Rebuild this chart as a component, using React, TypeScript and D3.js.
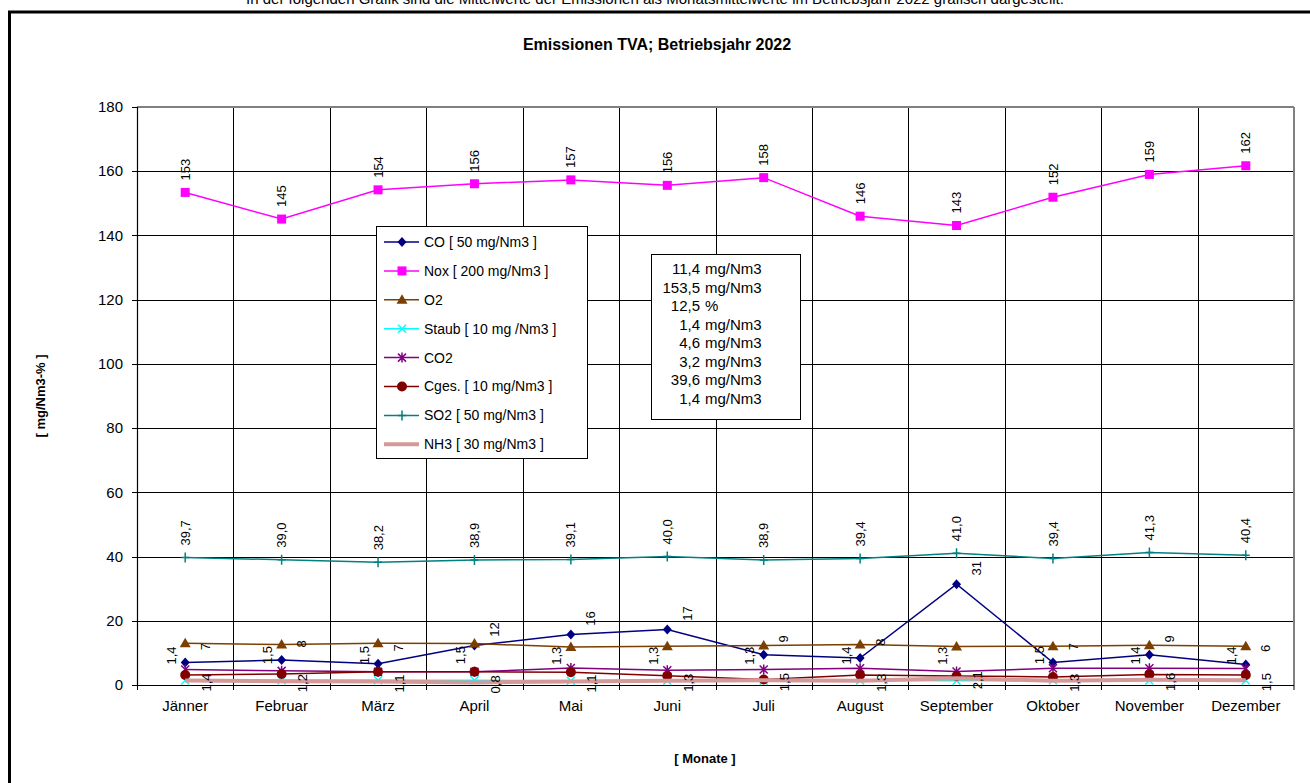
import React from "react";
import * as d3 from "d3";

const months = ["Jänner","Februar","März","April","Mai","Juni","Juli","August","September","Oktober","November","Dezember"];
const coValues = [7.0, 7.8, 6.6, 12.3, 15.7, 17.3, 9.4, 8.4, 31.4, 7.0, 9.4, 6.4];
const noxValues = [153.4, 145.1, 154.2, 156.1, 157.3, 155.6, 158.0, 146.0, 143.1, 151.9, 159.0, 161.7];
const o2Values = [13.0, 12.6, 13.0, 12.9, 11.8, 12.1, 12.3, 12.6, 12.0, 12.1, 12.4, 12.1];
const staubValues = [1.4, 1.5, 1.5, 1.5, 1.3, 1.3, 1.3, 1.4, 1.3, 1.5, 1.4, 1.4];
const co2Values = [4.8, 4.4, 4.1, 4.1, 5.3, 4.6, 4.8, 5.2, 4.2, 5.2, 5.2, 5.1];
const cgesValues = [3.1, 3.4, 4.1, 4.1, 4.0, 2.9, 1.7, 3.1, 2.8, 2.5, 3.3, 3.1];
const so2Values = [39.7, 39.0, 38.2, 38.9, 39.1, 40.0, 38.9, 39.4, 41.0, 39.4, 41.3, 40.4];
const nh3Values = [1.4, 1.2, 1.1, 0.8, 1.1, 1.3, 1.5, 1.3, 2.1, 1.3, 1.6, 1.5];
const yTicks = [0, 20, 40, 60, 80, 100, 120, 140, 160, 180];
const statsValues = ["11,4", "153,5", "12,5", "1,4", "4,6", "3,2", "39,6", "1,4"];
const statsUnits = ["mg/Nm3", "mg/Nm3", "%", "mg/Nm3", "mg/Nm3", "mg/Nm3", "mg/Nm3", "mg/Nm3"];

type Series = {
  name: string; values: number[]; color: string; marker: string; width: number;
  label?: "above" | "right" | "leftAbove" | "rightMid"; fmt?: (v: number) => string;
};

const fmt0 = (v: number) => d3.format(".0f")(v);
const fmt1 = (v: number) => d3.format(".1f")(v).replace(".", ",");

const series: Series[] = [
  { name: "CO [ 50 mg/Nm3 ]", values: coValues, color: "#000080", marker: "diamond", width: 1.5, label: "right", fmt: fmt0 },
  { name: "Nox [ 200 mg/Nm3 ]", values: noxValues, color: "#FF00FF", marker: "square", width: 1.5, label: "above", fmt: fmt0 },
  { name: "O2", values: o2Values, color: "#7B3F00", marker: "triangle", width: 1.5 },
  { name: "Staub [ 10 mg /Nm3 ]", values: staubValues, color: "#00FFFF", marker: "x", width: 1.5, label: "leftAbove", fmt: fmt1 },
  { name: "CO2", values: co2Values, color: "#800080", marker: "star", width: 1.5 },
  { name: "Cges. [ 10 mg/Nm3 ]", values: cgesValues, color: "#800000", marker: "circle", width: 1.5 },
  { name: "SO2 [ 50 mg/Nm3 ]", values: so2Values, color: "#008080", marker: "plus", width: 1.5, label: "above", fmt: fmt1 },
  { name: "NH3 [ 30 mg/Nm3 ]", values: nh3Values, color: "#D49A9A", marker: "none", width: 4, label: "rightMid", fmt: fmt1 },
];

const FONT = "Arial, 'Liberation Sans', sans-serif";

function Marker({ type, x, y, color }: { type: string; x: number; y: number; color: string }) {
  switch (type) {
    case "diamond":
      return <path d={`M${x},${y - 5}L${x + 4.5},${y}L${x},${y + 5}L${x - 4.5},${y}Z`} fill={color} />;
    case "square":
      return <rect x={x - 4.5} y={y - 4.5} width={9} height={9} fill={color} />;
    case "triangle":
      return <path d={`M${x},${y - 5.5}L${x + 5.5},${y + 4}L${x - 5.5},${y + 4}Z`} fill={color} />;
    case "x":
      return <path d={`M${x - 4},${y - 4}L${x + 4},${y + 4}M${x - 4},${y + 4}L${x + 4},${y - 4}`} stroke={color} strokeWidth={1.5} />;
    case "star":
      return <path d={`M${x - 4},${y - 4}L${x + 4},${y + 4}M${x - 4},${y + 4}L${x + 4},${y - 4}M${x},${y - 5}L${x},${y + 5}`} stroke={color} strokeWidth={1.5} />;
    case "circle":
      return <circle cx={x} cy={y} r={5} fill={color} />;
    case "plus":
      return <path d={`M${x - 4},${y}L${x + 4},${y}M${x},${y - 5}L${x},${y + 5}`} stroke={color} strokeWidth={1.5} />;
    default:
      return null;
  }
}

export default function App() {
  const W = 1310, H = 783;
  const left = 137, right = 1294, top = 107, bottom = 685;
  const x = d3.scaleBand<string>().domain(months).range([left, right]).padding(0);
  const y = d3.scaleLinear().domain([0, 180]).range([bottom, top]);
  const cx = (m: string) => (x(m) as number) + x.bandwidth() / 2;
  const line = d3.line<number>().x((_, i) => cx(months[i])).y((v) => y(v));

  const legX = 376, legY = 226, legW = 211, legH = 232, legRow = 28.9;
  const stX = 651, stY = 254, stW = 149, stH = 165;

  return (
    <svg width={W} height={H} style={{ display: "block", position: "absolute", left: 0, top: 0 }} fontFamily={FONT}>
      <rect x={0} y={0} width={W} height={H} fill="#fff" />
      <text x={655} y={4} textAnchor="middle" fontSize={15} fill="#000">
        In der folgenden Grafik sind die Mittelwerte der Emissionen als Monatsmittelwerte im Betriebsjahr 2022 grafisch dargestellt.
      </text>
      <rect x={9.5} y={12} width={1320} height={800} fill="#fff" stroke="#000" strokeWidth={3} />
      <text x={657} y={50} textAnchor="middle" fontSize={16} fontWeight="bold">Emissionen TVA; Betriebsjahr 2022</text>

      {/* gridlines */}
      {yTicks.map((t) => (
        <line key={"h" + t} x1={left - 5} x2={right} y1={Math.round(y(t)) + 0.5} y2={Math.round(y(t)) + 0.5} stroke="#000" strokeWidth={1} />
      ))}
      {months.map((m, i) => (
        i > 0 ? <line key={"v" + m} x1={Math.round(x(m) as number) + 0.5} x2={Math.round(x(m) as number) + 0.5} y1={top} y2={bottom + 5} stroke="#000" strokeWidth={1} /> : null
      ))}
      <line x1={left} x2={right} y1={top} y2={top} stroke="#808080" strokeWidth={2} />
      <line x1={right} x2={right} y1={top} y2={bottom + 5} stroke="#808080" strokeWidth={2} />
      <line x1={left + 0.5} x2={left + 0.5} y1={top} y2={bottom} stroke="#000" strokeWidth={1.2} />
      <line x1={left} x2={right} y1={bottom + 0.5} y2={bottom + 0.5} stroke="#000" strokeWidth={1.2} />
      <line x1={left + 0.5} x2={left + 0.5} y1={bottom} y2={bottom + 5} stroke="#000" strokeWidth={1} />

      {yTicks.map((t) => (
        <text key={"yl" + t} x={123} y={y(t)} dy="0.35em" textAnchor="end" fontSize={15}>{t}</text>
      ))}
      {months.map((m) => (
        <text key={"xl" + m} x={cx(m)} y={711} textAnchor="middle" fontSize={15}>{m}</text>
      ))}

      <text transform={`translate(45,${(top + bottom) / 2}) rotate(-90)`} textAnchor="middle" fontSize={13} fontWeight="bold">[ mg/Nm3-% ]</text>
      <text x={705} y={763} textAnchor="middle" fontSize={13} fontWeight="bold">[ Monate ]</text>

      {/* series */}
      {series.map((s) => (
        <g key={s.name}>
          <path d={line(s.values) as string} fill="none" stroke={s.color} strokeWidth={s.width} />
          {s.values.map((v, i) => (
            <Marker key={i} type={s.marker} x={cx(months[i])} y={y(v)} color={s.color} />
          ))}
        </g>
      ))}

      {/* data labels */}
      {series.filter((s) => s.label).map((s) => (
        <g key={"lab" + s.name} fontSize={13} fill="#000">
          {s.values.map((v, i) => {
            const px = cx(months[i]), py = y(v);
            const txt = s.fmt!(v);
            let tx = px, ty = py, anchor = "start";
            if (s.label === "above") { tx = px; ty = py - 12; anchor = "start"; }
            else if (s.label === "right") { tx = px + 20; ty = py - 16; anchor = "middle"; }
            else if (s.label === "leftAbove") { tx = px - 14; ty = py - 16; anchor = "start"; }
            else if (s.label === "rightMid") { tx = px + 21; ty = py + 2; anchor = "middle"; }
            return (
              <text key={i} transform={`translate(${tx},${ty}) rotate(-90)`} dy="0.35em" textAnchor={anchor}>{txt}</text>
            );
          })}
        </g>
      ))}

      {/* legend */}
      <rect x={legX + 0.5} y={legY + 0.5} width={legW} height={legH} fill="#fff" stroke="#000" strokeWidth={1} />
      {series.map((s, i) => {
        const ly = legY + 16 + i * legRow;
        return (
          <g key={"leg" + s.name}>
            <line x1={legX + 8} x2={legX + 43} y1={ly} y2={ly} stroke={s.color} strokeWidth={s.width} />
            <Marker type={s.marker} x={legX + 26} y={ly} color={s.color} />
            <text x={legX + 48} y={ly} dy="0.35em" fontSize={14}>{s.name}</text>
          </g>
        );
      })}

      {/* statistics box */}
      <rect x={stX + 0.5} y={stY + 0.5} width={stW} height={stH} fill="#fff" stroke="#000" strokeWidth={1} />
      {statsValues.map((v, i) => (
        <text key={"st" + i} y={stY + 15 + i * 18.5} dy="0.35em" fontSize={15}>
          <tspan x={700} textAnchor="end">{v}</tspan>
          <tspan x={705} textAnchor="start">{statsUnits[i]}</tspan>
        </text>
      ))}
    </svg>
  );
}
